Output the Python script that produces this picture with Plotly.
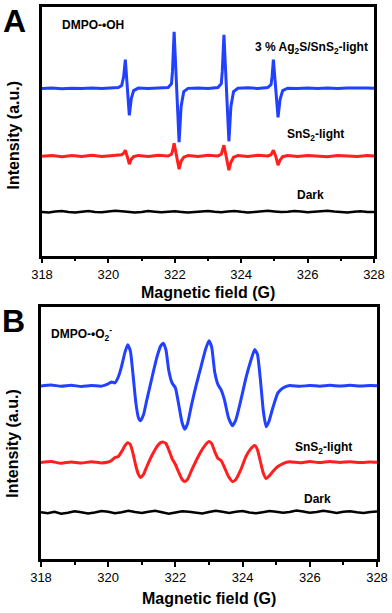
import plotly.graph_objects as go
from plotly.subplots import make_subplots

# ---- data (arbitrary intensity units) ----
field_a = [318.0, 318.3, 318.6, 318.9, 319.2, 319.5, 319.8, 320.1, 320.3, 320.4,
           320.46, 320.51, 320.57, 320.63, 320.69, 320.76, 320.9, 321.2, 321.5, 321.8,
           321.9, 321.93, 321.98, 322.05, 322.13, 322.19, 322.27, 322.4, 322.7, 323.0,
           323.3, 323.4, 323.43, 323.48, 323.55, 323.63, 323.69, 323.77, 323.9, 324.2,
           324.5, 324.8, 324.9, 324.93, 324.97, 325.04, 325.11, 325.17, 325.25, 325.4,
           325.7, 326.0, 326.3, 326.6, 326.9, 327.2, 327.5, 327.8, 328.0]
oh_composite = [168, 168.5, 167.8, 168.4, 168, 168.6, 168.1, 168.5, 169, 171,
                180, 197, 168, 141, 158, 166, 168.5, 168, 168.6, 169,
                173, 185, 225, 168, 114, 150, 165, 168.2, 168.6, 168,
                169, 173, 185, 222, 168, 115, 150, 165, 168.3, 168.7,
                168.1, 169, 172, 180, 197, 168, 139, 157, 166, 168.4,
                168, 168.6, 168.1, 168.5, 168, 168.6, 168.2, 168.5, 168.3]
oh_sns2 = [100, 100.8, 99.5, 100.6, 99.8, 101, 99.6, 100.4, 100.8, 101.5,
           103, 106, 99.5, 92, 97, 99.5, 100.8, 99.7, 100.9, 100.2,
           102, 105, 113, 100, 87, 95, 99, 100.6, 99.8, 101,
           100.3, 102, 105, 111, 99.5, 86, 94, 99, 100.7, 99.6,
           100.9, 100.2, 101.5, 103, 106, 100, 91, 96, 99.5, 100.6,
           99.7, 100.8, 100.1, 99.5, 100.7, 100.2, 99.8, 100.6, 100.3]

field_dark = [318.0, 318.2, 318.4, 318.6, 318.8, 319.0, 319.2, 319.4, 319.6, 319.8,
              320.0, 320.2, 320.4, 320.6, 320.8, 321.0, 321.2, 321.4, 321.6, 321.8,
              322.0, 322.2, 322.4, 322.6, 322.8, 323.0, 323.2, 323.4, 323.6, 323.8,
              324.0, 324.2, 324.4, 324.6, 324.8, 325.0, 325.2, 325.4, 325.6, 325.8,
              326.0, 326.2, 326.4, 326.6, 326.8, 327.0, 327.2, 327.4, 327.6, 327.8,
              328.0]
oh_dark = [44, 43.5, 44.5, 45, 44, 43.5, 44.2, 44.8, 44, 43.6,
           44.5, 45.2, 44.6, 44, 43.4, 44, 44.8, 44.2, 43.6, 44.1,
           44.7, 44, 43.3, 43.8, 44.5, 44.9, 44.2, 43.7, 44.3, 44.9,
           44.1, 43.5, 44, 44.6, 45.1, 44.4, 43.8, 44.2, 44.8, 44.3,
           43.6, 44.1, 44.7, 45.2, 44.5, 43.9, 43.5, 44.2, 44.6, 44,
           43.8]
o2_dark = [47, 46, 47.5, 45.5, 46.5, 48, 47, 45.8, 46.8, 48.2,
           47.4, 46, 47, 48.5, 47.2, 46.2, 47.6, 48.4, 47, 45.6,
           46.8, 48, 47.5, 46.4, 45.8, 47.2, 48.6, 47.4, 46.3, 47.5,
           48.2, 46.8, 45.9, 47.1, 48.3, 47.6, 46.5, 47.3, 48.7, 47.8,
           46.6, 47.2, 48.4, 47.5, 46.3, 47.4, 48.1, 47, 46.2, 47.3,
           47.8]

field_b = [318.0, 318.3, 318.6, 318.9, 319.2, 319.5, 319.8, 320.0, 320.1, 320.2,
           320.3, 320.4, 320.5, 320.58, 320.66, 320.74, 320.82, 320.9, 320.96, 321.05,
           321.15, 321.3, 321.45, 321.56, 321.64, 321.72, 321.8, 321.9, 322.0, 322.1,
           322.2, 322.28, 322.36, 322.48, 322.62, 322.76, 322.9, 323.0, 323.08, 323.17,
           323.27, 323.36, 323.46, 323.58, 323.7, 323.8, 323.95, 324.1, 324.25, 324.36,
           324.44, 324.53, 324.62, 324.7, 324.78, 324.9, 325.05, 325.2, 325.4, 325.7,
           326.0, 326.3, 326.6, 326.9, 327.2, 327.5, 327.8, 328.0]
o2_composite = [174, 175, 173.6, 174.6, 173.5, 174.4, 173.8, 176, 178, 177,
                183, 194, 208, 215.5, 209, 185, 158, 142, 139, 145,
                160, 182, 203, 214, 217, 210, 190, 177, 172, 155,
                137, 130.5, 136, 155, 175, 193, 211, 219.5, 213, 188,
                175, 170, 160, 142, 134, 140, 160, 182, 200, 210.5,
                206, 180, 148, 133, 138, 152, 167, 172, 174.5, 173.6,
                174.5, 173.7, 174.6, 173.8, 174.7, 173.9, 174.4, 174.2]
o2_sns2 = [97, 98, 96.2, 97.6, 96.5, 97.8, 96.6, 97.5, 99, 102,
           103, 108, 114, 117, 115, 106, 94, 85, 82, 85,
           93, 104, 113, 117, 117.5, 116, 110, 101, 95, 87,
           80, 78, 80, 89, 99, 108, 115, 118, 116, 108,
           101, 99, 92, 83, 78, 80, 90, 103, 111, 114,
           110, 98, 86, 81, 83, 88, 93, 96, 97.8, 96.8,
           97.9, 96.9, 98, 97, 97.8, 96.9, 97.6, 97.3]

field_ticks = [318, 320, 322, 324, 326, 328]

BLUE = "#2140ff"
RED = "#ff1f1f"
FONT = "Liberation Sans, Arial, sans-serif"

fig = make_subplots(rows=2, cols=1)

# panel A
fig.add_trace(go.Scatter(x=field_a, y=oh_composite, mode="lines",
                         line=dict(color=BLUE, width=3)), row=1, col=1)
fig.add_trace(go.Scatter(x=field_a, y=oh_sns2, mode="lines",
                         line=dict(color=RED, width=3)), row=1, col=1)
fig.add_trace(go.Scatter(x=field_dark, y=oh_dark, mode="lines",
                         line=dict(color="black", width=2.5)), row=1, col=1)
# panel B
fig.add_trace(go.Scatter(x=field_b, y=o2_composite, mode="lines",
                         line=dict(color=BLUE, width=3, shape="spline", smoothing=0.5)),
              row=2, col=1)
fig.add_trace(go.Scatter(x=field_b, y=o2_sns2, mode="lines",
                         line=dict(color=RED, width=3, shape="spline", smoothing=0.5)),
              row=2, col=1)
fig.add_trace(go.Scatter(x=field_dark, y=o2_dark, mode="lines",
                         line=dict(color="black", width=2.5)), row=2, col=1)

xax = dict(range=[318, 328], tickvals=field_ticks, ticks="outside", ticklen=5,
           tickwidth=2, tickcolor="black",
           minor=dict(dtick=1, tick0=318, ticks="outside", ticklen=3, tickwidth=2,
                      tickcolor="black"),
           showline=True, linewidth=2.5, linecolor="black", mirror=True,
           showgrid=False, zeroline=False,
           tickfont=dict(family=FONT, size=13, color="black"))
yax = dict(showticklabels=False, ticks="", showline=True, linewidth=2.5,
           linecolor="black", mirror=True, showgrid=False, zeroline=False)

fig.update_layout(
    width=392, height=613,
    margin=dict(l=41, r=13, t=4, b=54),
    paper_bgcolor="white", plot_bgcolor="white",
    showlegend=False,
    font=dict(family=FONT, color="black"),
    xaxis=dict(xax, domain=[0.003, 0.991], anchor="y"),
    yaxis=dict(yax, domain=[0.5495, 1.0], range=[0, 250], anchor="x"),
    xaxis2=dict(xax, domain=[0.0, 1.0], anchor="y2"),
    yaxis2=dict(yax, domain=[0.0, 0.4559], range=[0, 253], anchor="x2"),
)


def note(text, x, y, xref, yref, size=12, xanchor="center", angle=0):
    fig.add_annotation(text=text, x=x, y=y, xref=xref, yref=yref, showarrow=False,
                       xanchor=xanchor, yanchor="middle", textangle=angle,
                       font=dict(family=FONT, size=size, color="black"))


# panel A texts
note("<b>A</b>", -0.080, 236, "paper", "y", size=32)
note("<b>DMPO-•OH</b>", 318.54, 232, "x", "y", xanchor="left")
note("<b>3 % Ag<sub>2</sub>S/SnS<sub>2</sub>-light</b>", 327.88, 209, "x", "y", xanchor="right")
note("<b>SnS<sub>2</sub>-light</b>", 326.25, 121, "x", "y")
note("<b>Dark</b>", 326.1, 61, "x", "y")
note("<b>Intensity (a.u.)</b>", -0.083, 121, "paper", "y", size=16, angle=-90)
note("<b>Magnetic field (G)</b>", 323.0, -0.148, "x", "y domain", size=16)

# panel B texts
note("<b>B</b>", -0.083, 239, "paper", "y2", size=32)
note("<b>DMPO-•O<sub>2</sub><sup>-</sup></b>", 318.24, 226, "x2", "y2", xanchor="left")
note("<b>3 % Ag<sub>2</sub>S/SnS<sub>2</sub>-light</b>", 328.03, 192, "x2", "y2", xanchor="right")
note("<b>SnS<sub>2</sub>-light</b>", 326.41, 112, "x2", "y2")
note("<b>Dark</b>", 326.22, 60, "x2", "y2")
note("<b>Intensity (a.u.)</b>", -0.083, 116, "paper", "y2", size=16, angle=-90)
note("<b>Magnetic field (G)</b>", 323.0, -0.158, "x2", "y2 domain", size=16)

# the page's default body margin would shift the figure by 8px
fig.write_html("out.html", config={"displayModeBar": False},
               post_script="document.body.style.margin='0';")
